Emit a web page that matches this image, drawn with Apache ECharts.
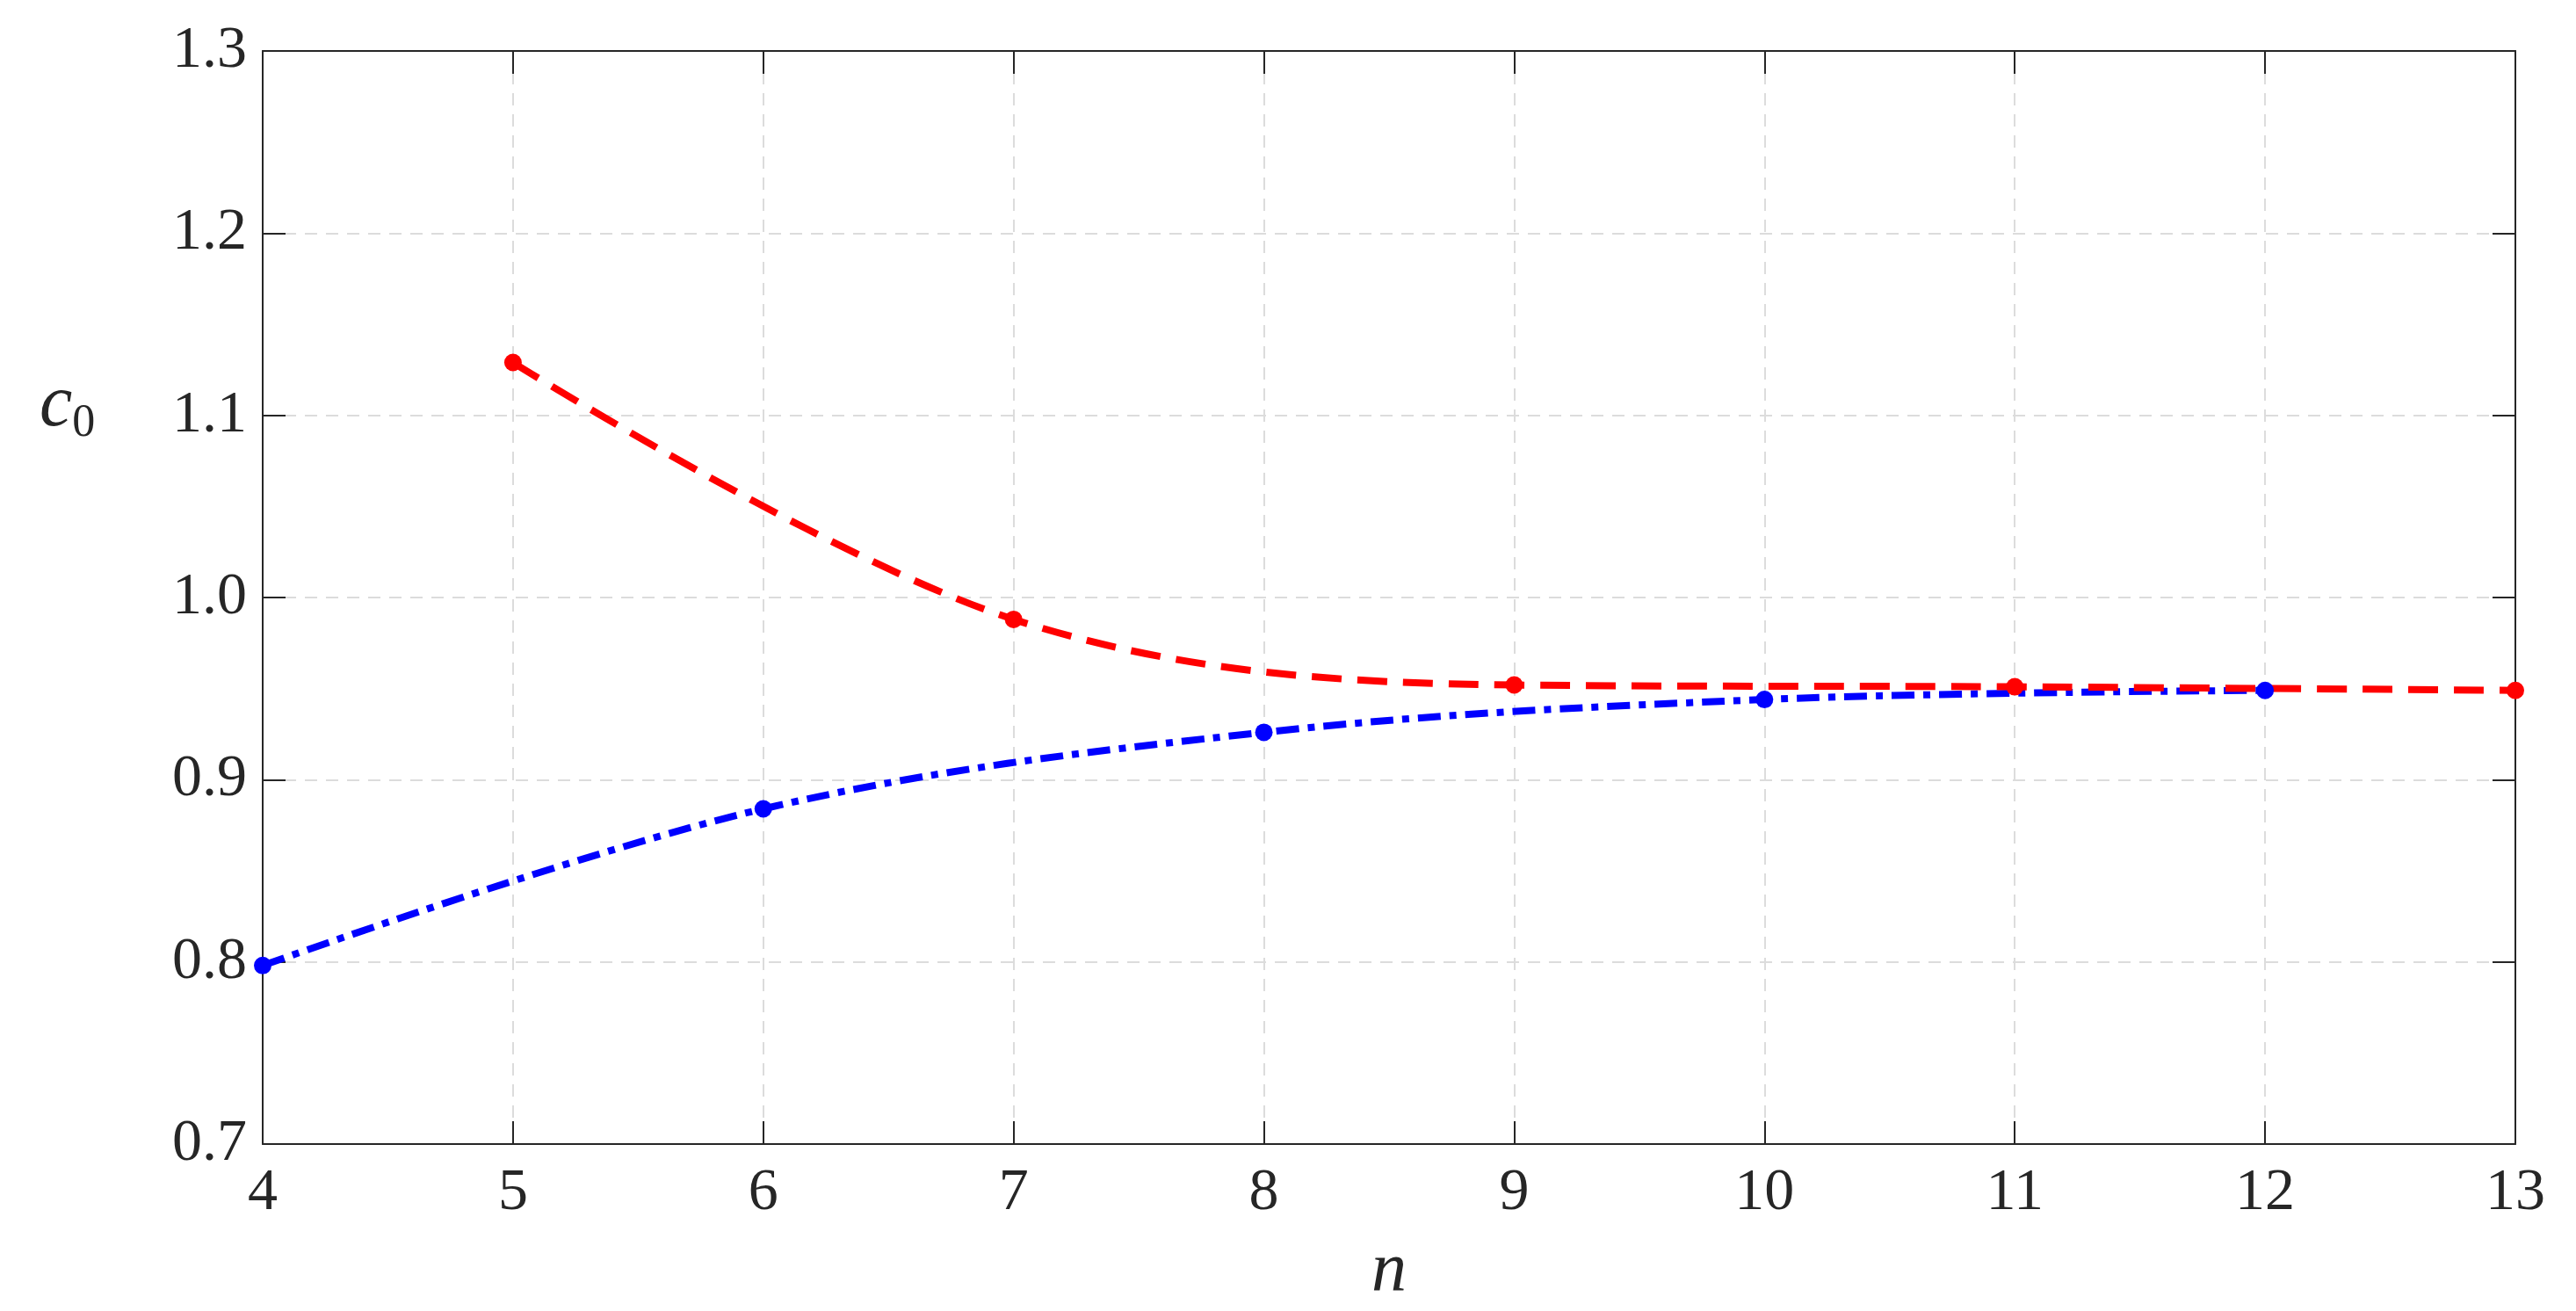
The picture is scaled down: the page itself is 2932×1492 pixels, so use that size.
<!DOCTYPE html>
<html><head><meta charset="utf-8">
<script src="https://cdn.jsdelivr.net/npm/echarts@6/dist/echarts.min.js"></script>
<style>html,body{margin:0;background:#fff}#c{width:2932px;height:1492px}</style>
</head><body><div id="c"></div>
<script>
const blueN = [4, 6, 8, 10, 12];
const blueC = [0.798, 0.884, 0.926, 0.944, 0.949];
const redN = [5, 7, 9, 11, 13];
const redC = [1.129, 0.988, 0.952, 0.951, 0.949];
const xTicks = [4,5,6,7,8,9,10,11,12,13];
const yTicks = [0.7,0.8,0.9,1.0,1.1,1.2,1.3];

const font = '"Liberation Serif", "Times New Roman", serif';
const chart = echarts.init(document.getElementById('c'));
const axisCommon = {
  axisLine:{show:true,onZero:false,lineStyle:{color:'#262626',width:2}},
  axisTick:{show:true,inside:true,length:26,lineStyle:{color:'#262626',width:2}},
  splitLine:{show:true,lineStyle:{color:'#dcdcdc',type:[14,10],width:2}},
};
chart.setOption({
  animation:false,
  grid:{left:299,right:69,top:58,bottom:170},
  xAxis:[{type:'value',min:4,max:13,interval:1,...axisCommon,
    axisLabel:{fontFamily:font,fontSize:68,color:'#262626',margin:22},
    name:'n',nameLocation:'middle',nameGap:105,
    nameTextStyle:{fontFamily:font,fontSize:80,fontStyle:'italic',color:'#262626'}},
    {type:'value',min:4,max:13,interval:1,position:'top',...axisCommon,splitLine:{show:false},axisLabel:{show:false}}],
  yAxis:[{type:'value',min:0.7,max:1.3,interval:0.1,...axisCommon,
    axisLabel:{fontFamily:font,fontSize:68,color:'#262626',margin:18,formatter:v=>v.toFixed(1)}},
    {type:'value',min:0.7,max:1.3,interval:0.1,position:'right',...axisCommon,splitLine:{show:false},axisLabel:{show:false}}],
  graphic:[{type:'text',left:45,top:420,style:{rich:{a:{fontFamily:font,fontSize:84,fontStyle:'italic',fill:'#262626'},b:{fontFamily:font,fontSize:52,fill:'#262626',padding:[40,0,0,0]}},text:'{a|c}{b|0}'}}],
  series:[
    {type:'line',data:blueN.map((n,i)=>[n,blueC[i]]),smooth:0.35,symbol:'circle',symbolSize:20,
     itemStyle:{color:'#0000ff'},lineStyle:{color:'#0000ff',width:8,type:[26,10,8,10]}},
    {type:'line',data:redN.map((n,i)=>[n,redC[i]]),smooth:0.35,symbol:'circle',symbolSize:20,
     itemStyle:{color:'#ff0000'},lineStyle:{color:'#ff0000',width:8,type:[34,18]}}
  ]
});
</script></body></html>
